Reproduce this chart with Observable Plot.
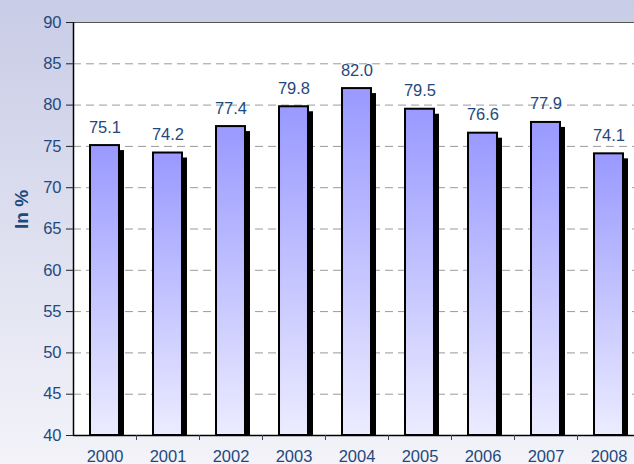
<!DOCTYPE html>
<html><head><meta charset="utf-8">
<script src="https://cdn.jsdelivr.net/npm/d3@7"></script>
<script src="https://cdn.jsdelivr.net/npm/@observablehq/plot@0.6"></script>
<style>
html,body{margin:0;padding:0;overflow:hidden;width:634px;height:464px;}
body{background:linear-gradient(to bottom,#c8cce6 0%,#f3f3f9 100%);}
#chart svg{display:block;max-width:none !important;}
</style></head><body><div id="chart"></div>
<script>
const years = ["2000","2001","2002","2003","2004","2005","2006","2007","2008"];
const values = [75.1, 74.2, 77.4, 79.8, 82.0, 79.5, 76.6, 77.9, 74.1];
const yTicks = [40, 45, 50, 55, 60, 65, 70, 75, 80, 85, 90];
const axisTitle = "In %";

const data = years.map((year, i) => ({year, i, value: values[i]}));
const textColor = "#1f497d";
const fs = 16.5;

const defs = () => {
  const s = d3.create("svg:defs");
  const g = s.append("linearGradient").attr("id", "barGrad")
    .attr("x1", 0).attr("y1", 0).attr("x2", 0).attr("y2", 1);
  g.append("stop").attr("offset", "0%").attr("stop-color", "#9999ff");
  g.append("stop").attr("offset", "100%").attr("stop-color", "#ececff");
  return s.node();
};

const barX = {x1: d => d.i + 0.27, x2: d => d.i + 0.73, y1: () => 40, y2: "value"};

const plot = Plot.plot({
  width: 650, height: 464,
  marginLeft: 73, marginRight: 10, marginTop: 22, marginBottom: 29,
  style: {background: "transparent", fontFamily: "'Liberation Sans', Arial, sans-serif", fontSize: "16px", overflow: "visible", maxWidth: "none"},
  x: {domain: [0, years.length], axis: null},
  y: {domain: [40, 90], axis: null},
  marks: [
    defs,
    Plot.frame({fill: "white", stroke: "none"}),
    Plot.ruleY(yTicks.filter(t => t > 40 && t < 90), {stroke: "#9a9a9a", strokeDasharray: "8,5"}),
    Plot.rect(data, {...barX, fill: "black", dx: 5, dy: 5, insetBottom: 5}),
    Plot.rect(data, {...barX, fill: "url(#barGrad)", stroke: "black", strokeWidth: 2}),
    Plot.text(data, {x: d => d.i + 0.5, y: "value", text: d => d.value.toFixed(1), dy: -13, lineAnchor: "bottom", fill: textColor, fontSize: fs}),
    Plot.ruleY([90], {stroke: "#555"}),
    Plot.ruleX([0], {stroke: "black", strokeWidth: 1.5}),
    Plot.ruleY([40], {stroke: "black", strokeWidth: 1.5}),
    Plot.axisY(yTicks, {tickSize: 7, tickPadding: 5, stroke: "#222", fill: textColor, fontSize: fs, label: null}),
    Plot.axisX(d3.range(1, years.length + 1), {tickSize: 5, stroke: "#444", tickFormat: () => "", label: null}),
    Plot.axisX(d3.range(years.length).map(i => i + 0.5), {tickSize: 0, tickPadding: 14.5, tickFormat: v => years[Math.floor(v)], fill: textColor, fontSize: fs, label: null}),
    Plot.text([axisTitle], {frameAnchor: "left", rotate: -90, dx: -52, fontWeight: "bold", fill: textColor, fontSize: 19})
  ]
});
document.getElementById("chart").appendChild(plot);
</script>
</body></html>
